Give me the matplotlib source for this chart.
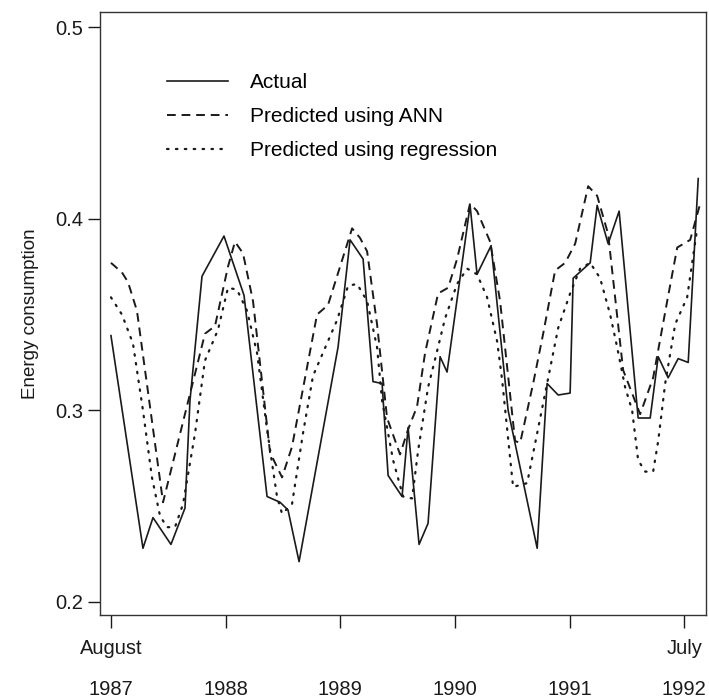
import numpy as np
import matplotlib
matplotlib.use("Agg")
import matplotlib.pyplot as plt

plt.rcParams['font.family'] = ['Liberation Sans', 'DejaVu Sans']

# months since August 1987 and energy consumption
actual_m = [0.0, 3.35, 4.4, 6.28, 7.75, 8.27, 9.53, 11.83, 13.93, 16.34, 17.7, 18.53,
            19.69, 23.77, 25.03, 26.39, 27.43, 28.38, 29.01, 30.47, 31.1, 32.25, 33.19,
            34.45, 35.18, 37.59, 38.32, 39.79, 41.57, 44.61, 45.65, 46.81, 48.06, 48.38,
            50.16, 50.89, 52.04, 53.19, 55.18, 56.44, 57.28, 58.32, 59.37, 60.42, 61.47]
actual = [0.339, 0.228, 0.244, 0.230, 0.249, 0.305, 0.370, 0.391, 0.360, 0.255, 0.252, 0.248,
          0.221, 0.333, 0.389, 0.379, 0.315, 0.314, 0.266, 0.255, 0.291, 0.230, 0.241,
          0.328, 0.320, 0.407, 0.371, 0.386, 0.300, 0.228, 0.314, 0.308, 0.309, 0.369,
          0.377, 0.407, 0.387, 0.404, 0.296, 0.296, 0.328, 0.317, 0.327, 0.325, 0.421]

ann_m = [0.0, 1.15, 1.78, 2.72, 5.45, 9.84, 10.89, 12.25, 12.98, 13.82, 14.87, 16.65,
         17.91, 18.95, 21.57, 22.72, 25.24, 26.07, 26.81, 27.85, 28.9, 30.26, 31.1, 32.04,
         32.88, 34.24, 35.29, 36.23, 37.59, 38.32, 39.69, 40.73, 42.3, 42.83, 44.19, 45.24,
         46.49, 47.54, 48.59, 49.95, 50.89, 52.04, 53.61, 55.39, 56.75, 58.22, 59.27,
         60.63, 61.68]
ann = [0.377, 0.372, 0.367, 0.352, 0.252, 0.340, 0.344, 0.375, 0.388, 0.382, 0.357, 0.278,
       0.265, 0.281, 0.350, 0.355, 0.395, 0.390, 0.383, 0.345, 0.296, 0.277, 0.290, 0.302,
       0.330, 0.361, 0.364, 0.379, 0.408, 0.404, 0.388, 0.357, 0.284, 0.283, 0.314, 0.340,
       0.373, 0.377, 0.387, 0.417, 0.412, 0.392, 0.321, 0.298, 0.317, 0.357, 0.385,
       0.389, 0.408]

reg_m = [0.0, 1.15, 2.3, 3.35, 4.29, 5.13, 5.86, 6.7, 7.54, 8.8, 9.84, 11.2, 12.25, 13.19,
         14.24, 15.29, 16.34, 17.38, 17.91, 18.95, 20.1, 21.15, 22.62, 23.66, 24.82, 25.76,
         26.81, 27.85, 28.38, 29.53, 30.58, 31.52, 32.15, 33.19, 34.14, 34.97, 36.23, 37.28,
         38.32, 39.37, 40.42, 40.94, 42.09, 43.56, 44.61, 45.65, 46.81, 48.06, 49.11, 50.16,
         51.2, 52.25, 52.98, 53.82, 54.55, 55.18, 55.92, 56.75, 57.28, 58.01, 59.06, 60.31,
         61.36]
reg = [0.359, 0.350, 0.335, 0.300, 0.265, 0.245, 0.239, 0.239, 0.251, 0.288, 0.326, 0.342,
       0.364, 0.363, 0.352, 0.330, 0.290, 0.255, 0.246, 0.251, 0.288, 0.318, 0.335, 0.347,
       0.365, 0.366, 0.357, 0.333, 0.305, 0.274, 0.255, 0.254, 0.279, 0.312, 0.331, 0.348,
       0.366, 0.374, 0.371, 0.359, 0.336, 0.316, 0.260, 0.262, 0.288, 0.314, 0.343, 0.361,
       0.374, 0.377, 0.369, 0.350, 0.333, 0.312, 0.300, 0.274, 0.268, 0.268, 0.284, 0.314,
       0.345, 0.359, 0.395]

tick_pos = [0, 12, 24, 36, 48, 60]
tick_labels = ["August\n1987", "\n1988", "\n1989", "\n1990", "\n1991", "July\n1992"]
yticks = [0.2, 0.3, 0.4, 0.5]

fig = plt.figure(figsize=(7.09, 7.0), dpi=100)
ax = fig.add_axes([0.141, 0.121, 0.855, 0.862])

col = '#1a1a1a'
ax.plot(actual_m, actual, color=col, lw=1.2, label='Actual')
ax.plot(ann_m, ann, color=col, lw=1.4, linestyle=(0, (4.5, 3)), label='Predicted using ANN')
ax.plot(reg_m, reg, color=col, lw=1.6, linestyle=(0, (0.7, 3.3)), dash_capstyle='round',
        label='Predicted using regression')

ax.set_xlim(-1.15, 62.3)
ax.set_ylim(0.193, 0.508)
ax.set_xticks(tick_pos)
ax.set_xticklabels(tick_labels, fontsize=14.5, linespacing=2.45)
ax.set_yticks(yticks)
ax.set_yticklabels([str(v) for v in yticks], fontsize=14.5)
ax.tick_params(direction='out', length=9, width=1, color=col, labelcolor=col)
ax.tick_params(axis='x', pad=8)
ax.tick_params(axis='y', pad=3)
ax.set_ylabel('Energy consumption', fontsize=13.5, color=col, labelpad=12)
for s in ax.spines.values():
    s.set_linewidth(1.0)
    s.set_color('#333333')

ax.legend(loc='upper left', bbox_to_anchor=(0.097, 0.912), frameon=False, fontsize=15,
          handlelength=2.9, handletextpad=1.1, labelspacing=0.72, borderaxespad=0)

fig.savefig('out.png', dpi=100)
